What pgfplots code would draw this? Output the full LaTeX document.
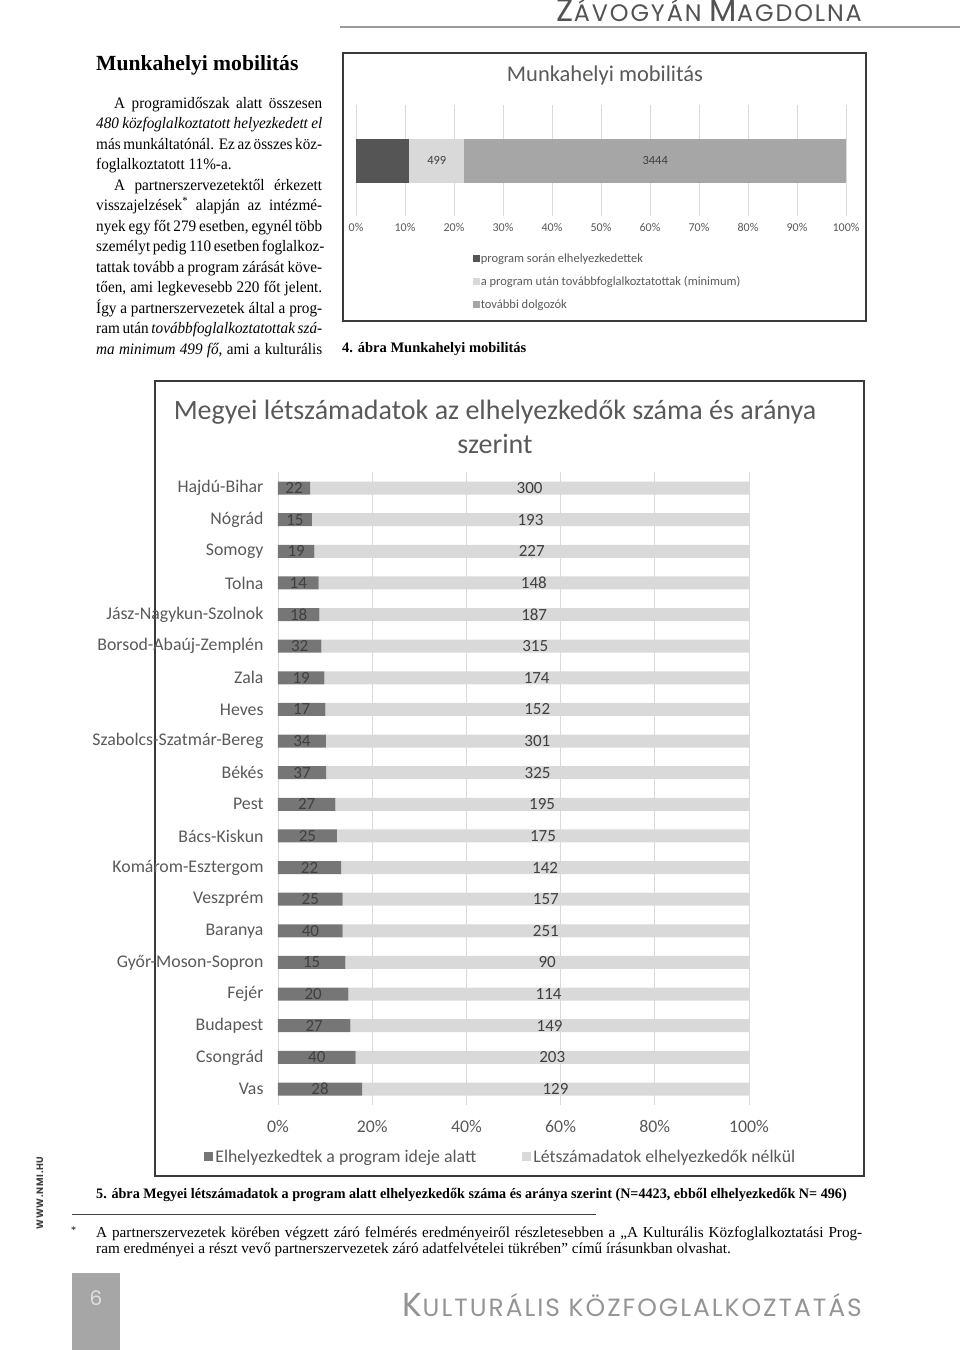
\documentclass[border=0pt]{standalone}
\usepackage{pgfplots}
\pgfplotsset{compat=1.18}
\usepackage{pgfplotstable}
\usepackage{fontspec}
\usepackage{graphicx}
\setmainfont{Liberation Serif}
\newfontfamily\calfont{Carlito}
\newfontfamily\widefont{Poppins}[LetterSpace=8]
\pgfkeys{/pgf/number format/.cd, 1000 sep={}, assume math mode=true}

\definecolor{txtgray}{HTML}{595959}
\definecolor{lblgray}{HTML}{404040}
\definecolor{gridgray}{HTML}{D9D9D9}
\definecolor{dkbar}{HTML}{767676}
\definecolor{ltbar}{HTML}{D9D9D9}
\definecolor{sdark}{HTML}{555555}
\definecolor{slight}{HTML}{D9D9D9}
\definecolor{smid}{HTML}{A6A6A6}
\definecolor{framec}{HTML}{3A3A3A}

\pgfplotstableread{
name a b
Hajdú-Bihar 22 300
Nógrád 15 193
Somogy 19 227
Tolna 14 148
Jász-Nagykun-Szolnok 18 187
Borsod-Abaúj-Zemplén 32 315
Zala 19 174
Heves 17 152
Szabolcs-Szatmár-Bereg 34 301
Békés 37 325
Pest 27 195
Bács-Kiskun 25 175
Komárom-Esztergom 22 142
Veszprém 25 157
Baranya 40 251
Győr-Moson-Sopron 15 90
Fejér 20 114
Budapest 27 149
Csongrád 40 203
Vas 28 129
}\megyei

\pgfplotstableread{
a b c
480 499 3444
}\mob

\newcommand\bodyfont{\fontsize{16}{20}\selectfont}
\newcommand\txtline[3]{\node[anchor=base west,inner sep=0pt] at (#1,#2) {\scalebox{0.95}[1]{\bodyfont #3}};}

\begin{document}
\begin{tikzpicture}[x=1pt,y=-1pt]
\useasboundingbox (0,0) rectangle (960,1350);

% header
\draw[color=gray!80, line width=1.5pt] (340,27) -- (960,27);
\node[anchor=base east, inner sep=0pt, text=black!68] at (862,21) {\resizebox{305pt}{!}{\widefont\fontsize{20}{20}\selectfont Z\fontsize{15}{15}\selectfont ÁVOGYÁN \fontsize{20}{20}\selectfont M\fontsize{15}{15}\selectfont AGDOLNA}};

% left column text
\node[anchor=base west, inner sep=0pt] at (96,70) {\fontsize{21.6}{21.6}\selectfont\bfseries Munkahelyi mobilitás};
\txtline{114}{108}{\makebox[218.9pt][s]{A programidőszak alatt összesen}}
\txtline{96}{128.5}{\makebox[237.9pt][s]{\itshape 480 közfoglalkoztatott helyezkedett el}}
\txtline{96}{149}{\makebox[237.9pt][s]{más munkáltatónál. Ez az összes köz-}}
\txtline{96}{169.5}{foglalkoztatott 11\%-a.}
\txtline{114}{190}{\makebox[218.9pt][s]{A partnerszervezetektől érkezett}}
\txtline{96}{210.5}{\makebox[237.9pt][s]{visszajelzések\textsuperscript{*} alapján az intézmé-}}
\txtline{96}{231}{\makebox[237.9pt][s]{nyek egy főt 279 esetben, egynél több}}
\txtline{96}{251.5}{\makebox[237.9pt][s]{személyt pedig 110 esetben foglalkoz-}}
\txtline{96}{272}{\makebox[237.9pt][s]{tattak tovább a program zárását köve-}}
\txtline{96}{292.5}{\makebox[237.9pt][s]{tően, ami legkevesebb 220 főt jelent.}}
\txtline{96}{313}{\makebox[237.9pt][s]{Így a partnerszervezetek által a prog-}}
\txtline{96}{333.5}{\makebox[237.9pt][s]{ram után \textit{továbbfoglalkoztatottak szá-}}}
\txtline{96}{354}{\makebox[237.9pt][s]{\textit{ma minimum 499 fő}, ami a kulturális}}

% small chart
\draw[framec, line width=1.3pt] (343,53) rectangle (866,321);
\node[text=txtgray, font=\calfont\fontsize{22.5}{22.5}\selectfont] at (605,75) {Munkahelyi mobilitás};
\begin{axis}[at={(356pt,-105pt)}, anchor=north west,
  scale only axis, width=490pt, height=111pt,
  xbar stacked, bar width=44pt,
  xmin=0, xmax=100, ymin=-1, ymax=1, ytick=\empty,
  xtick={0,10,...,100},
  xticklabels={0\%,10\%,20\%,30\%,40\%,50\%,60\%,70\%,80\%,90\%,100\%},
  xmajorgrids, major grid style={draw=gridgray, line width=0.8pt},
  axis line style={draw=none}, major tick length=0pt,
  tick label style={font=\calfont\fontsize{12}{12}\selectfont, text=txtgray},
  xticklabel shift=4pt,
  legend cell align=left,
  legend image code/.code={\fill[#1] (0pt,-3.5pt) rectangle (7pt,3.5pt);},
  legend style={at={(axis description cs:0.238,-0.33)}, anchor=north west, draw=none, fill=none,
    font=\calfont\fontsize{12.5}{12.5}\selectfont, text=txtgray, row sep=10.5pt, inner sep=0pt,
    nodes={inner sep=1pt}},
  every node near coord/.append style={font=\calfont\fontsize{12.5}{12.5}\selectfont, text=lblgray, anchor=center},
  clip=false]
\addplot[fill=sdark, draw=none] table[x expr={\thisrow{a}/(\thisrow{a}+\thisrow{b}+\thisrow{c})*100}, y expr=0]{\mob};
\addlegendentry{program során elhelyezkedettek}
\addplot[fill=slight, draw=none, point meta=\thisrow{b}, nodes near coords]
  table[x expr={\thisrow{b}/(\thisrow{a}+\thisrow{b}+\thisrow{c})*100}, y expr=0]{\mob};
\addlegendentry{a program után továbbfoglalkoztatottak (minimum)}
\addplot[fill=smid, draw=none, point meta=\thisrow{c}, nodes near coords]
  table[x expr={\thisrow{c}/(\thisrow{a}+\thisrow{b}+\thisrow{c})*100}, y expr=0]{\mob};
\addlegendentry{további dolgozók}
\end{axis}
\node[anchor=base west, inner sep=0pt] at (342,352) {\fontsize{14.5}{14.5}\selectfont\bfseries 4. ábra Munkahelyi mobilitás};

% main chart
\draw[framec, line width=1.3pt] (155,381) rectangle (864,1176);
\node[text=txtgray, align=center, font=\calfont\fontsize{28}{34}\selectfont] at (495,427) {Megyei létszámadatok az elhelyezkedők száma és aránya\\ szerint};
\begin{axis}[at={(278pt,-472.2pt)}, anchor=north west,
  scale only axis, width=471pt, height=632.6pt,
  xbar stacked, bar width=13pt,
  xmin=0, xmax=100, ymin=-0.5, ymax=19.5, y dir=reverse,
  ytick={0,...,19}, yticklabels from table={\megyei}{name},
  xtick={0,20,...,100}, xticklabels={0\%,20\%,40\%,60\%,80\%,100\%},
  xmajorgrids, major grid style={draw=gridgray, line width=0.8pt},
  axis line style={draw=none}, major tick length=0pt,
  tick label style={font=\calfont\fontsize{17.8}{17.8}\selectfont, text=txtgray},
  xticklabel shift=12pt, yticklabel shift=11pt,
  legend columns=2,
  legend image code/.code={\fill[#1] (0pt,-4.5pt) rectangle (9pt,4.5pt);},
  legend style={at={(axis description cs:0.473,0)}, anchor=north, yshift=-41pt, draw=none, fill=none,
    font=\calfont\fontsize{17.8}{17.8}\selectfont, text=txtgray,
    /tikz/column 2/.style={column sep=44pt}},
  every node near coord/.append style={font=\calfont\fontsize{17}{17}\selectfont, text=lblgray, anchor=center},
  clip=false]
\addplot[fill=dkbar, draw=none, point meta=\thisrow{a}, nodes near coords]
  table[x expr={\thisrow{a}/(\thisrow{a}+\thisrow{b})*100}, y expr=\coordindex]{\megyei};
\addlegendentry{Elhelyezkedtek a program ideje alatt}
\addplot[fill=ltbar, draw=none, point meta=\thisrow{b}, nodes near coords]
  table[x expr={\thisrow{b}/(\thisrow{a}+\thisrow{b})*100}, y expr=\coordindex]{\megyei};
\addlegendentry{Létszámadatok elhelyezkedők nélkül}
\end{axis}
\node[anchor=base west, inner sep=0pt] at (96,1198) {\scalebox{0.976}[1]{\fontsize{14.5}{14.5}\selectfont\bfseries 5. ábra Megyei létszámadatok a program alatt elhelyezkedők száma és aránya szerint (N=4423, ebből elhelyezkedők N= 496)}};

% footnote
\draw[black!75, line width=1pt] (72,1214) -- (596,1214);
\node[anchor=base west, inner sep=0pt] at (71,1233) {\fontsize{10}{10}\selectfont *};
\node[anchor=base west, inner sep=0pt] at (96,1237) {\fontsize{15.2}{15.2}\selectfont\makebox[766pt][s]{A partnerszervezetek körében végzett záró felmérés eredményeiről részletesebben a „A Kulturális Közfoglalkoztatási Prog-}};
\node[anchor=base west, inner sep=0pt] at (96,1253) {\fontsize{15.2}{15.2}\selectfont ram eredményei a részt vevő partnerszervezetek záró adatfelvételei tükrében” című írásunkban olvashat.};

% side text
\node[rotate=90, text=black!75, inner sep=0pt] at (40,1193) {\resizebox{73pt}{!}{\widefont\bfseries WWW.NMI.HU}};

% page number & footer
\fill[black!35] (72,1273) rectangle (120,1350);
\node[text=black!12] at (96,1298) {\widefont\fontsize{20}{20}\selectfont 6};
\node[anchor=base east, inner sep=0pt, text=black!42] at (862,1316) {\resizebox{459pt}{!}{\widefont\fontsize{20}{20}\selectfont K\fontsize{15}{15}\selectfont ULTURÁLIS KÖZFOGLALKOZTATÁS}};
\end{tikzpicture}
\end{document}
